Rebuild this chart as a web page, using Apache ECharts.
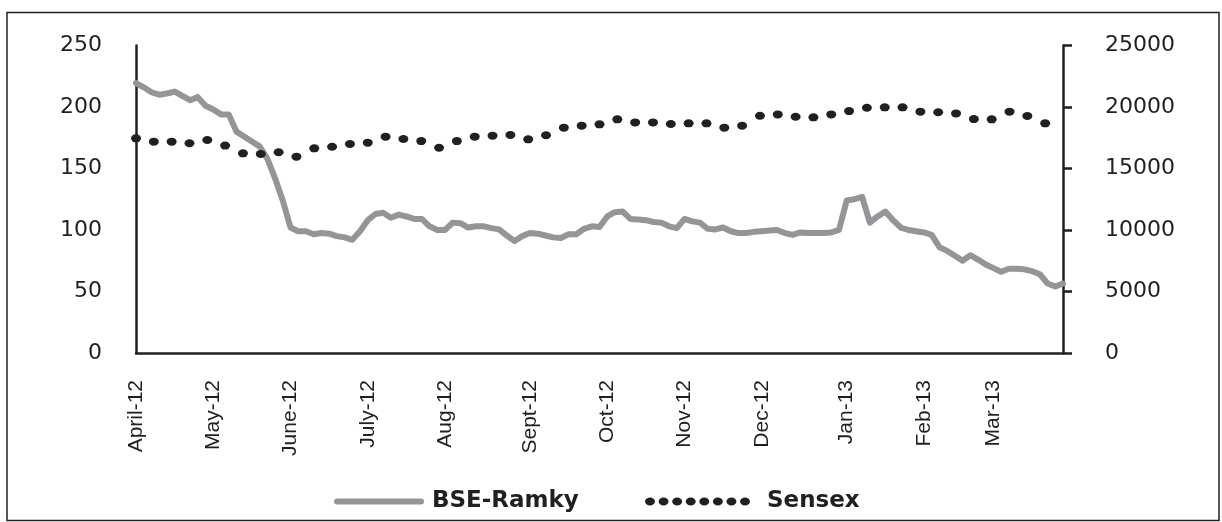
<!DOCTYPE html>
<html>
<head>
<meta charset="utf-8">
<script src="https://cdn.jsdelivr.net/npm/echarts@6/dist/echarts.min.js"></script>
<style>
  html, body { margin: 0; padding: 0; background: #fff; }
  #chart { width: 1222px; height: 522px; }
</style>
</head>
<body>
<div id="chart"></div>
<script>
// month labels and the point index where each month starts
var monthLabels = ['April-12', 'May-12', 'June-12', 'July-12', 'Aug-12', 'Sept-12',
                   'Oct-12', 'Nov-12', 'Dec-12', 'Jan-13', 'Feb-13', 'Mar-13'];
var monthStart = [0, 10, 20, 30, 40, 51, 61, 71, 81, 92, 102, 111];

// BSE-Ramky price (left axis)
var ramky = [
  219.5, 216, 212, 210, 211, 212.5, 209, 205.5, 208, 201,
  198, 194, 194, 180, 176, 172, 168, 158, 142, 124,
  102, 99, 99, 96.5, 97.5, 97, 95, 94, 92, 99,
  108, 113, 114, 110, 112.5, 111, 109, 109, 103, 100,
  100, 106, 105.5, 102, 103, 103, 101.5, 100.5, 95.5, 91,
  95, 97.5, 97, 95.5, 94, 93.5, 96.5, 96.5, 101, 103,
  102.5, 111, 114.5, 115, 109, 108.5, 108, 106.5, 106, 103,
  101.5, 109, 107, 106, 101, 100.5, 102, 99, 97.5, 97.5,
  98.5, 99, 99.5, 100, 97.5, 96, 98, 97.5, 97.5, 97.5,
  98, 100, 124, 125, 127, 106, 111, 115, 108, 102,
  100, 99, 98, 96, 86, 83, 79, 75, 79.5, 76,
  72, 69, 66, 68.5, 68.5, 68, 66.5, 64, 56.5, 54,
  56.5
];

// Sensex (right axis), one value per dot
var sensex = [
  17450, 17180, 17180, 17050, 17320, 16860, 16230, 16180, 16320, 15960,
  16640, 16770, 16990, 17100, 17590, 17400, 17230, 16690, 17230, 17590,
  17670, 17720, 17370, 17700, 18320, 18480, 18590, 19000, 18750, 18750,
  18620, 18670, 18670, 18320, 18480, 19290, 19400, 19210, 19160, 19400,
  19670, 19940, 19970, 19970, 19620, 19570, 19480, 19020, 19000, 19620,
  19270, 18670, null
];

var categories = ramky.map(function (v, i) {
  var k = monthStart.indexOf(i);
  return k >= 0 ? monthLabels[k] : 'p' + i;
});
var sensexCats = sensex.map(function (v, i) { return 's' + i; });

var ink = '#231f20';
var grey = '#939598';

// legend icons
var dotPath = 'path://';
for (var k = 0; k < 8; k++) {
  var cx = 5 + k * 13.6;
  dotPath += 'M' + (cx - 5) + ',4A5,4,0,1,1,' + (cx + 5) + ',4A5,4,0,1,1,' + (cx - 5) + ',4Z';
}
var barPath = 'path://M3,0H87A3,3,0,0,1,87,6H3A3,3,0,0,1,3,0Z';

var chart = echarts.init(document.getElementById('chart'));
chart.setOption({
  animation: false,
  backgroundColor: '#fff',
  graphic: [{
    type: 'rect',
    shape: { x: 7, y: 12.5, width: 1212, height: 508 },
    style: { fill: 'none', stroke: ink, lineWidth: 1.5 },
    silent: true
  }],
  grid: { left: 136, right: 159, top: 45.5, bottom: 169 },
  legend: [{
    data: ['BSE-Ramky'],
    left: 329, top: 485,
    itemWidth: 90, itemHeight: 6,
    icon: barPath,
    textStyle: { fontFamily: 'DejaVu Sans', fontWeight: 'bold', fontSize: 23, color: ink, padding: [0, 0, 0, 3] }
  }, {
    data: ['Sensex'],
    left: 640, top: 485,
    itemWidth: 105, itemHeight: 8,
    icon: dotPath,
    textStyle: { fontFamily: 'DejaVu Sans', fontWeight: 'bold', fontSize: 23, color: ink, padding: [0, 0, 0, 12] }
  }],
  xAxis: [{
    type: 'category',
    data: categories,
    boundaryGap: false,
    axisLine: { lineStyle: { color: ink, width: 2.5 } },
    axisTick: { show: false },
    splitLine: { show: false },
    axisLabel: {
      interval: function (i) { return monthStart.indexOf(i) >= 0; },
      rotate: 90,
      margin: 27,
      fontSize: 21,
      fontFamily: 'Liberation Sans',
      color: ink
    }
  }, {
    type: 'category',
    data: sensexCats,
    boundaryGap: false,
    show: false
  }],
  yAxis: [{
    type: 'value',
    position: 'left',
    min: 0, max: 250, interval: 50,
    axisLine: { show: true, lineStyle: { color: ink, width: 2.5 } },
    axisTick: { show: false },
    splitLine: { show: false },
    axisLabel: { margin: 34, fontSize: 22, fontFamily: 'DejaVu Sans', color: ink }
  }, {
    type: 'value',
    position: 'right',
    min: 0, max: 25000, interval: 5000,
    axisLine: { show: true, lineStyle: { color: ink, width: 2.5 } },
    axisTick: { show: true, length: 9, lineStyle: { color: ink, width: 2.5 } },
    splitLine: { show: false },
    axisLabel: {
      margin: 42, fontSize: 22, fontFamily: 'DejaVu Sans', color: ink,
      formatter: function (v) { return String(v); }
    }
  }],
  series: [{
    name: 'BSE-Ramky',
    type: 'line',
    xAxisIndex: 0,
    yAxisIndex: 0,
    data: ramky,
    symbol: 'none',
    lineStyle: { color: grey, width: 6, cap: 'round', join: 'round' },
    itemStyle: { color: grey },
    z: 2
  }, {
    name: 'Sensex',
    type: 'line',
    xAxisIndex: 1,
    yAxisIndex: 1,
    data: sensex,
    symbol: 'circle',
    symbolSize: [10, 8],
    showSymbol: true,
    showAllSymbol: true,
    lineStyle: { width: 0, opacity: 0 },
    itemStyle: { color: ink },
    z: 3
  }]
});
</script>
</body>
</html>
